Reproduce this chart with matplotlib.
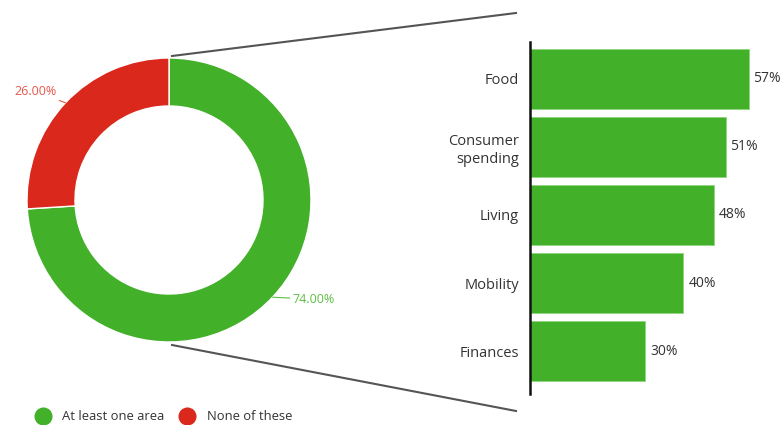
import numpy as np
import matplotlib.pyplot as plt
from matplotlib.lines import Line2D

plt.rcParams['font.family'] = ['Open Sans', 'DejaVu Sans']

# Données
pie_labels = ["At least one area", "None of these"]
pie_values = [74.0, 26.0]
pie_colors = ["#43b02a", "#da291c"]
pie_text_colors = ["#5cbf45", "#e8564b"]

bar_labels = ["Food", "Consumer\nspending", "Living", "Mobility", "Finances"]
bar_values = [57, 51, 48, 40, 30]
bar_color = "#43b02a"

W, H = 783, 425
fig = plt.figure(figsize=(W / 100, H / 100), dpi=100)

# ===== Donut =====
cx, cy, R = 169, 200, 142
half = 160
ax_pie = fig.add_axes([(cx - half) / W, (H - cy - half) / H, 2 * half / W, 2 * half / H])
wedges, _ = ax_pie.pie(pie_values, colors=pie_colors, startangle=90, counterclock=False,
                       radius=1, wedgeprops=dict(width=48 / R, edgecolor="white", linewidth=1))
lim = half / R
ax_pie.set_xlim(-lim, lim)
ax_pie.set_ylim(-lim, lim)
ax_pie.set_aspect("equal")
ax_pie.axis("off")

# étiquettes du donut
offsets = [(20, -2), (-9, 11)]
for w, v, c, off in zip(wedges, pie_values, pie_text_colors, offsets):
    ang = np.deg2rad((w.theta1 + w.theta2) / 2)
    x, y = np.cos(ang), np.sin(ang)
    ha = "left" if x > 0 else "right"
    ax_pie.annotate(f"{v:.2f}%", xy=(x, y), xytext=off, textcoords="offset pixels",
                    ha=ha, va="center", fontsize=9, color=c,
                    arrowprops=dict(arrowstyle="-", color=c, lw=0.8, shrinkA=0, shrinkB=0))

# légende
handles = [Line2D([], [], marker="o", linestyle="", markersize=12, color=c) for c in pie_colors]
fig.legend(handles, pie_labels, loc="center left", bbox_to_anchor=(35 / W, 1 - 417 / H),
           ncol=2, frameon=False, fontsize=9.4, handletextpad=0.95, columnspacing=1.15,
           borderpad=0, borderaxespad=0, handlelength=1.15, labelcolor="#333333")

# ===== Barres =====
x0, x1 = 530, 783
ytop, ybot = 42, 394
ax_bar = fig.add_axes([x0 / W, 1 - ybot / H, (x1 - x0) / W, (ybot - ytop) / H])
y = np.arange(len(bar_values))
ax_bar.barh(y, bar_values, height=0.88, color=bar_color, edgecolor="#8fd47f", linewidth=0.6)
ax_bar.set_ylim(len(bar_values) - 1 + 0.63, -0.54)
ax_bar.set_xlim(0, 66)
ax_bar.set_yticks(y)
ax_bar.set_yticklabels(bar_labels, fontsize=10.5, color="#333333", linespacing=1.3)
ax_bar.tick_params(axis="y", length=0, pad=8)
ax_bar.set_xticks([])
for s in ["top", "right", "bottom"]:
    ax_bar.spines[s].set_visible(False)
ax_bar.spines["left"].set_linewidth(1.8)
ax_bar.spines["left"].set_color("#111111")
for yi, v in zip(y, bar_values):
    ax_bar.text(v + 1.3, yi, f"{v}%", va="center", ha="left", fontsize=10, color="#333333")

# lignes de liaison
for (xa, ya), (xb, yb) in [((172, 56), (516, 13)), ((172, 345), (516, 411))]:
    fig.add_artist(Line2D([xa / W, xb / W], [1 - ya / H, 1 - yb / H],
                          transform=fig.transFigure, color="#555555", lw=1.5))

fig.savefig("out.png", dpi=100)
